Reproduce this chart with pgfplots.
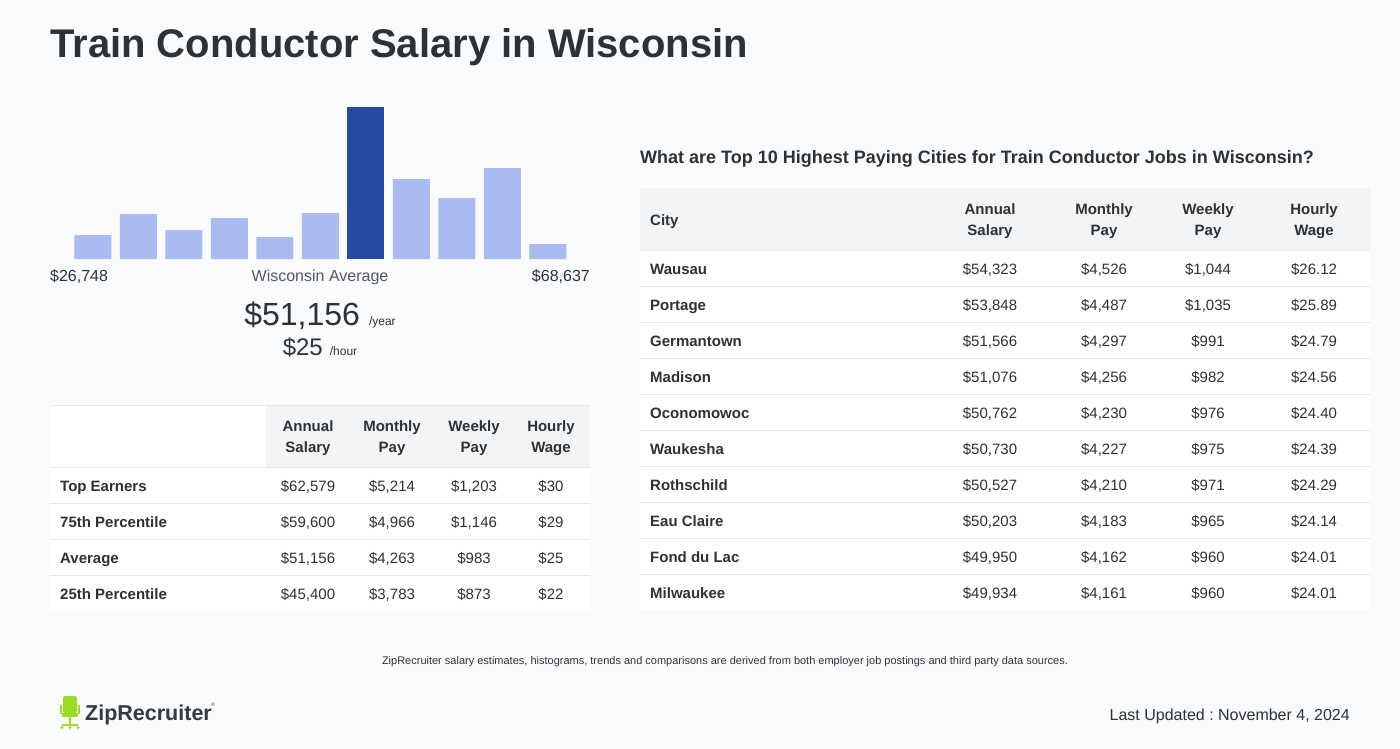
\documentclass[border=0pt]{standalone}
\usepackage{pgfplots}
\pgfplotsset{compat=1.18}
\usepackage{fontspec}
\setmainfont{Liberation Sans}
\frenchspacing
\definecolor{bg}{RGB}{250,251,253}
\definecolor{txt}{RGB}{45,50,54}
\definecolor{gtxt}{RGB}{85,88,92}
\definecolor{lightbar}{RGB}{169,187,240}
\definecolor{darkbar}{RGB}{39,75,165}
\definecolor{hdr}{RGB}{243,244,246}
\definecolor{rulec}{RGB}{229,231,235}
\definecolor{zipgreen}{RGB}{156,220,40}
\newcommand{\fs}[1]{\fontsize{#1}{#1}\selectfont}
\begin{document}
\begin{tikzpicture}[x=1pt,y=-1pt]
\fill[bg] (0,0) rectangle (1400,749);
% title
\node[anchor=base west, text=txt, font=\fs{40}\bfseries, inner sep=0] at (50,58) {Train Conductor Salary in Wisconsin};
% histogram
\coordinate (hb) at (70,259);
\begin{axis}[at={(hb)}, anchor=south west, scale only axis, width=500.5pt, height=152pt,
  xmin=-0.5, xmax=10.5, ymin=0, ymax=152, axis lines=none, ybar, bar width=37pt, bar shift=0pt, clip=false]
\addplot[fill=lightbar, draw=none] coordinates {(0,24)(1,45)(2,29)(3,41)(4,22)(5,46)(7,80)(8,61)(9,91)(10,15)};
\addplot[fill=darkbar, draw=none] coordinates {(6,152)};
\end{axis}
\node[anchor=base west, inner sep=0, text=txt, font=\fs{16}] at (50,281) {\$26,748};
\node[anchor=base, inner sep=0, text=gtxt, font=\fs{16}] at (320,281) {Wisconsin Average};
\node[anchor=base east, inner sep=0, text=txt, font=\fs{16}] at (590,281) {\$68,637};
\node[anchor=base, inner sep=0, text=txt] at (320,325) {{\fs{32}\$51,156}\hspace{9pt}{\fs{12}/year}};
\node[anchor=base, inner sep=0, text=txt] at (320,355) {{\fs{24}\$25}\hspace{7pt}{\fs{12}/hour}};
% left table
\fill[white] (50,405) rectangle (590,611);
\fill[hdr] (266,405) rectangle (590,467);
\draw[rulec, line width=1pt] (50,405) -- (590,405);
\foreach \yy in {467,503,539,575} \draw[rulec, line width=1pt] (50,\yy) -- (590,\yy);
\foreach \cx/\la/\lb in {308/Annual/Salary,392/Monthly/Pay,474/Weekly/Pay,551/Hourly/Wage}{
  \node[anchor=base, inner sep=0, text=txt, font=\fs{15}\bfseries] at (\cx,431.5) {\la};
  \node[anchor=base, inner sep=0, text=txt, font=\fs{15}\bfseries] at (\cx,452.5) {\lb};
}
\foreach \n/\a/\m/\w/\h [count=\i from 0] in {
  {Top Earners/\$62,579/\$5,214/\$1,203/\$30},
  {75th Percentile/\$59,600/\$4,966/\$1,146/\$29},
  {Average/\$51,156/\$4,263/\$983/\$25},
  {25th Percentile/\$45,400/\$3,783/\$873/\$22}}{
  \pgfmathsetmacro{\yb}{491.5+36*\i}
  \node[anchor=base west, inner sep=0, text=txt, font=\fs{15}\bfseries] at (60,\yb) {\n};
  \node[anchor=base, inner sep=0, text=txt, font=\fs{15}] at (308,\yb) {\a};
  \node[anchor=base, inner sep=0, text=txt, font=\fs{15}] at (392,\yb) {\m};
  \node[anchor=base, inner sep=0, text=txt, font=\fs{15}] at (474,\yb) {\w};
  \node[anchor=base, inner sep=0, text=txt, font=\fs{15}] at (551,\yb) {\h};
}
% right title
\node[anchor=base west, inner sep=0, text=txt, font=\fs{18}\bfseries] at (640,163.5) {What are Top 10 Highest Paying Cities for Train Conductor Jobs in Wisconsin?};
% right table
\fill[white] (640,188) rectangle (1370,610);
\fill[hdr] (640,188) rectangle (1370,250);
\foreach \k in {0,...,9} \draw[rulec, line width=1pt] (640,250+36*\k) -- (1370,250+36*\k);
\node[anchor=base west, inner sep=0, text=txt, font=\fs{15}\bfseries] at (650,225.5) {City};
\foreach \cx/\la/\lb in {990/Annual/Salary,1104/Monthly/Pay,1208/Weekly/Pay,1314/Hourly/Wage}{
  \node[anchor=base, inner sep=0, text=txt, font=\fs{15}\bfseries] at (\cx,214.5) {\la};
  \node[anchor=base, inner sep=0, text=txt, font=\fs{15}\bfseries] at (\cx,235.5) {\lb};
}
\foreach \n/\a/\m/\w/\h [count=\i from 0] in {
  {Wausau/\$54,323/\$4,526/\$1,044/\$26.12},
  {Portage/\$53,848/\$4,487/\$1,035/\$25.89},
  {Germantown/\$51,566/\$4,297/\$991/\$24.79},
  {Madison/\$51,076/\$4,256/\$982/\$24.56},
  {Oconomowoc/\$50,762/\$4,230/\$976/\$24.40},
  {Waukesha/\$50,730/\$4,227/\$975/\$24.39},
  {Rothschild/\$50,527/\$4,210/\$971/\$24.29},
  {Eau Claire/\$50,203/\$4,183/\$965/\$24.14},
  {Fond du Lac/\$49,950/\$4,162/\$960/\$24.01},
  {Milwaukee/\$49,934/\$4,161/\$960/\$24.01}}{
  \pgfmathsetmacro{\yb}{274.4+36*\i}
  \node[anchor=base west, inner sep=0, text=txt, font=\fs{15}\bfseries] at (650,\yb) {\n};
  \node[anchor=base, inner sep=0, text=txt, font=\fs{15}] at (990,\yb) {\a};
  \node[anchor=base, inner sep=0, text=txt, font=\fs{15}] at (1104,\yb) {\m};
  \node[anchor=base, inner sep=0, text=txt, font=\fs{15}] at (1208,\yb) {\w};
  \node[anchor=base, inner sep=0, text=txt, font=\fs{15}] at (1314,\yb) {\h};
}
% footer
\node[anchor=base, inner sep=0, text=txt, font=\fs{11}] at (725,664) {ZipRecruiter salary estimates, histograms, trends and comparisons are derived from both employer job postings and third party data sources.};
\node[anchor=base east, inner sep=0, text=txt, font=\fs{16}] at (1350,720) {Last Updated : November 4, 2024};
% logo
\fill[zipgreen, rounded corners=1.5pt] (63,696) rectangle (77,713);
\fill[zipgreen] (62,713) rectangle (78,717);
\draw[zipgreen, line width=1.6pt] (61,705) -- (61,714);
\draw[zipgreen, line width=1.6pt] (79,705) -- (79,714);
\draw[zipgreen, line width=2pt] (70,717) -- (70,725);
\draw[zipgreen, line width=1.6pt] (62,725) -- (78,725);
\fill[zipgreen] (62,727.5) circle (1.6pt);
\fill[zipgreen] (70,727.5) circle (1.6pt);
\fill[zipgreen] (78,727.5) circle (1.6pt);
\node[anchor=base west, inner sep=0, text=txt!90!gray, font=\fs{21.5}\bfseries] at (85,720) {ZipRecruiter};
\node[anchor=base west, inner sep=0, text=txt, font=\fs{5}] at (211,706) {®};
\end{tikzpicture}
\end{document}
